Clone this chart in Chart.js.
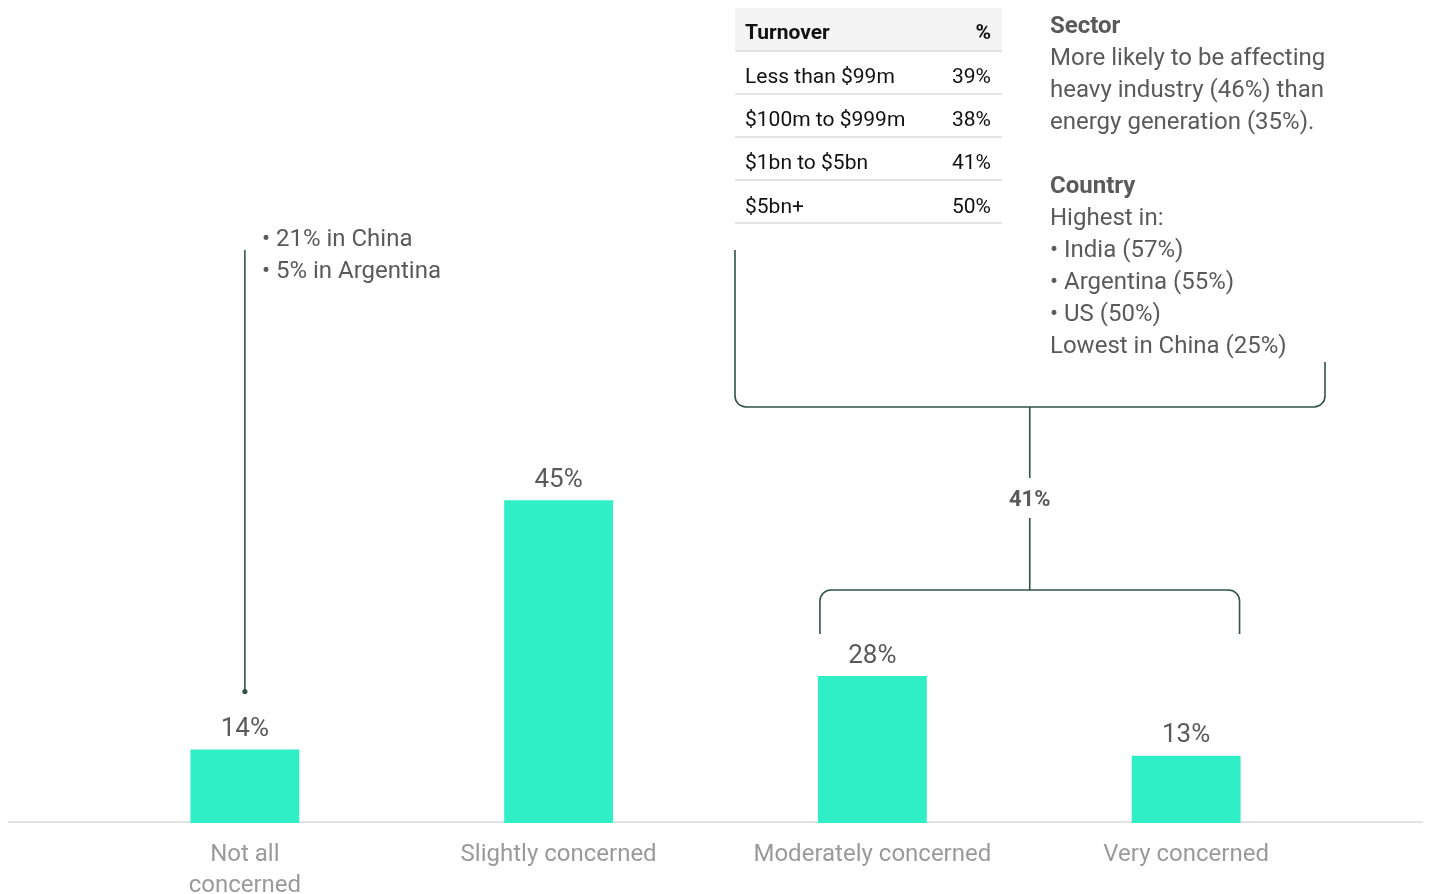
<!DOCTYPE html>
<html>
<head>
<meta charset="utf-8">
<script src="https://cdn.jsdelivr.net/npm/chart.js@4"></script>
<style>
  html, body { margin: 0; padding: 0; background: #fff; }
  #wrap { position: relative; width: 1431px; height: 894px; }
</style>
</head>
<body>
<div id="wrap"><canvas id="c"></canvas></div>
<script>
// ---- data ----
const categories = [['Not all', 'concerned'], 'Slightly concerned', 'Moderately concerned', 'Very concerned'];
// bar heights as drawn in the reference (the "45%" bar is drawn taller than proportional)
const barValues = [14, 61.5, 28, 12.8];
const valueLabels = ['14%', '45%', '28%', '13%'];
const combinedLabel = '41%';
const notAllNotes = ['\u2022 21% in China', '\u2022 5% in Argentina'];
const turnoverHeader = ['Turnover', '%'];
const turnoverBands = ['Less than $99m', '$100m to $999m', '$1bn to $5bn', '$5bn+'];
const turnoverValues = ['39%', '38%', '41%', '50%'];
const sectorTitle = 'Sector';
const sectorLines = ['More likely to be affecting', 'heavy industry (46%) than', 'energy generation (35%).'];
const countryTitle = 'Country';
const countryLines = ['Highest in:', '\u2022 India (57%)', '\u2022 Argentina (55%)', '\u2022 US (50%)', 'Lowest in China (25%)'];

const FONT = 'Roboto, "Noto Sans", sans-serif';
const LINE = '#2f5249';
const TEXT = '#5a5a5a';

function roundedBracket(ctx, pts, r) {
  ctx.beginPath();
  ctx.moveTo(pts[0][0], pts[0][1]);
  for (let i = 1; i < pts.length - 1; i++) {
    ctx.arcTo(pts[i][0], pts[i][1], pts[i + 1][0], pts[i + 1][1], r);
  }
  ctx.lineTo(pts[pts.length - 1][0], pts[pts.length - 1][1]);
  ctx.stroke();
}

const annotations = {
  id: 'annotations',
  beforeDatasetsDraw(chart) {
    const ctx = chart.ctx;
    const y0 = chart.scales.y.getPixelForValue(0);
    ctx.save();
    ctx.strokeStyle = '#e2e2e2';
    ctx.lineWidth = 2;
    ctx.beginPath();
    ctx.moveTo(8, y0 - 1);
    ctx.lineTo(1423, y0 - 1);
    ctx.stroke();
    ctx.restore();
  },
  afterDatasetsDraw(chart) {
    const ctx = chart.ctx;
    const bars = chart.getDatasetMeta(0).data;
    ctx.save();

    // value labels
    ctx.fillStyle = TEXT;
    ctx.font = '26px ' + FONT;
    ctx.textAlign = 'center';
    ctx.textBaseline = 'middle';
    bars.forEach((b, i) => ctx.fillText(valueLabels[i], b.x, b.y - 20));

    // Not-all annotation line
    const b0 = bars[0];
    ctx.strokeStyle = LINE;
    ctx.lineWidth = 1.6;
    ctx.beginPath();
    ctx.moveTo(b0.x, 250);
    ctx.lineTo(b0.x, b0.y - 58);
    ctx.stroke();
    ctx.fillStyle = LINE;
    ctx.beginPath();
    ctx.arc(b0.x, b0.y - 58, 2.6, 0, Math.PI * 2);
    ctx.fill();

    ctx.fillStyle = TEXT;
    ctx.font = '24px ' + FONT;
    ctx.textAlign = 'left';
    notAllNotes.forEach((t, i) => ctx.fillText(t, b0.x + 17, 240 + i * 32));

    // Turnover table
    const tx0 = 735, tx1 = 1002;
    ctx.fillStyle = '#f4f4f4';
    ctx.fillRect(tx0, 8, tx1 - tx0, 43);
    ctx.strokeStyle = '#e3e3e3';
    ctx.lineWidth = 2;
    for (let i = 0; i <= turnoverBands.length; i++) {
      const y = 51 + i * 43;
      ctx.beginPath();
      ctx.moveTo(tx0, y);
      ctx.lineTo(tx1, y);
      ctx.stroke();
    }
    ctx.fillStyle = '#111';
    ctx.font = 'bold 21px ' + FONT;
    ctx.textAlign = 'left';
    ctx.fillText(turnoverHeader[0], 745, 34);
    ctx.textAlign = 'right';
    ctx.fillText(turnoverHeader[1], 991, 34);
    ctx.font = '21px ' + FONT;
    turnoverBands.forEach((t, i) => {
      const y = 77.5 + i * 43.3;
      ctx.textAlign = 'left';
      ctx.fillText(t, 745, y);
      ctx.textAlign = 'right';
      ctx.fillText(turnoverValues[i], 991, y);
    });

    // Sector / Country text
    ctx.textAlign = 'left';
    ctx.fillStyle = TEXT;
    ctx.font = 'bold 24px ' + FONT;
    ctx.fillText(sectorTitle, 1050, 27);
    ctx.font = '24px ' + FONT;
    sectorLines.forEach((t, i) => ctx.fillText(t, 1050, 59 + i * 32));
    ctx.font = 'bold 24px ' + FONT;
    ctx.fillText(countryTitle, 1050, 187);
    ctx.font = '24px ' + FONT;
    countryLines.forEach((t, i) => ctx.fillText(t, 1050, 219 + i * 32));

    // brackets
    const b2 = bars[2], b3 = bars[3];
    const lx0 = b2.x - b2.width / 2 + 2, lx1 = b3.x + b3.width / 2 - 1;
    const mid = (lx0 + lx1) / 2;
    ctx.strokeStyle = LINE;
    ctx.lineWidth = 1.6;
    roundedBracket(ctx, [[735, 250], [735, 407], [1325, 407], [1325, 362]], 11);
    roundedBracket(ctx, [[lx0, 634], [lx0, 590], [lx1, 590], [lx1, 634]], 11);
    ctx.beginPath();
    ctx.moveTo(mid, 407); ctx.lineTo(mid, 478);
    ctx.moveTo(mid, 518); ctx.lineTo(mid, 590);
    ctx.stroke();
    ctx.fillStyle = TEXT;
    ctx.font = 'bold 22px ' + FONT;
    ctx.textAlign = 'center';
    ctx.fillText(combinedLabel, mid, 500);

    ctx.restore();
  }
};

new Chart(document.getElementById('c'), {
  type: 'bar',
  data: {
    labels: categories,
    datasets: [{
      data: barValues,
      backgroundColor: '#30efc6',
      borderWidth: 0,
      categoryPercentage: 1,
      barPercentage: 0.347
    }]
  },
  options: {
    responsive: true,
    maintainAspectRatio: false,
    animation: false,
    events: [],
    layout: { padding: { left: 88, right: 88, top: 0, bottom: 0 } },
    plugins: { legend: { display: false }, tooltip: { enabled: false } },
    scales: {
      x: {
        grid: { display: false },
        border: { display: false },
        ticks: {
          color: '#9a9a9a',
          font: { family: FONT, size: 24, lineHeight: 1.3 },
          padding: 8,
          maxRotation: 0,
          autoSkip: false
        },
        afterFit(scale) { scale.height = 71; }
      },
      y: {
        display: false,
        min: 0,
        max: 156.8
      }
    }
  },
  plugins: [annotations]
});
</script>
</body>
</html>
